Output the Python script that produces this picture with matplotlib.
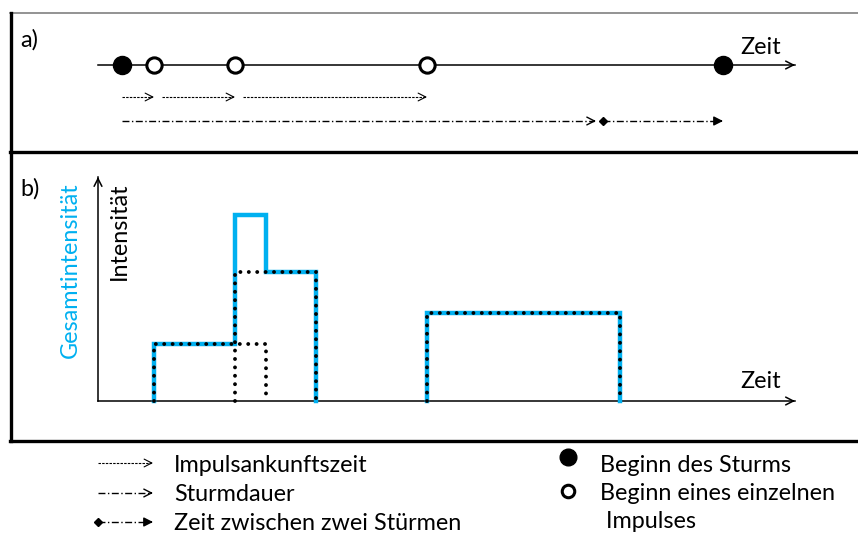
import numpy as np
import matplotlib.pyplot as plt

# ---- data (time in arbitrary units, intensity in arbitrary units) ----
storm_starts = [2.4, 62.5]          # Beginn des Sturms
pulse_starts = [5.6, 13.7, 32.9]    # Beginn eines einzelnen Impulses
pulse_ends = [16.8, 21.8, 52.2]
pulse_heights = [5.7, 12.9, 8.8]
storm_duration_end = 49.8           # end of first Sturmdauer arrow
time_axis_end = 69.7
intensity_axis_end = 22.4

legend_lines = ['Impulsankunftszeit', 'Sturmdauer', 'Zeit zwischen zwei Stürmen']
legend_points = ['Beginn des Sturms', 'Beginn eines einzelnen', ' Impulses']

plt.rcParams['font.family'] = ['Lato', 'DejaVu Sans']
FS = 16.8
BLUE = '#00B0F0'
dotdash = (0, (5, 1.8, 1, 1.8))
finedash = (0, (2.2, 1.1))
HEAD = ',head_length=0.55,head_width=0.28'

fig = plt.figure(figsize=(8.58, 5.34), dpi=100)
W, H = 858, 534

# frame axes in pixel coordinates
fr = fig.add_axes([0, 0, 1, 1])
fr.set_xlim(0, W)
fr.set_ylim(H, 0)
fr.axis('off')
fr.plot([10, W], [13, 13], color='#808080', lw=1.2)
fr.plot([10.5, 10.5], [13, 441], color='black', lw=2.4)
fr.plot([10, W], [152, 152], color='black', lw=2.4)
fr.plot([10, W], [441, 441], color='black', lw=2.4)
fr.text(20, 40, 'a)', fontsize=FS, va='center', ha='left')
fr.text(20, 189, 'b)', fontsize=FS, va='center', ha='left')

xlim = (-9.8, 76.0)


def arrow_head(ax, x1, y, filled=False, lw=0.9, dx=0.3, dy=0.0):
    style = ('-|>' if filled else '->') + HEAD
    ax.annotate('', xy=(x1, y), xytext=(x1 - dx, y - dy),
                arrowprops=dict(arrowstyle=style, color='black', lw=lw,
                                shrinkA=0, shrinkB=0))


# ---- panel a ----
aa = fig.add_axes([0, 0, 1, 1])
aa.set_xlim(*xlim)
aa.set_ylim(H, 0)
aa.axis('off')
y_line, y_arr, y_dur = 65, 97, 121
aa.plot([0, time_axis_end], [y_line, y_line], color='black', lw=1.1)
arrow_head(aa, time_axis_end, y_line, lw=1.1)
aa.text(time_axis_end - 3.4, y_line - 18, 'Zeit', fontsize=FS, ha='center', va='center')
aa.plot(storm_starts, [y_line] * len(storm_starts), 'o', color='black', ms=13, zorder=3)
aa.plot(pulse_starts, [y_line] * len(pulse_starts), 'o', mfc='white', mec='black',
        mew=2.2, ms=11, zorder=3)

# Impulsankunftszeit arrows
prev = storm_starts[0]
for i, ps in enumerate(pulse_starts):
    start = prev if i == 0 else prev + 0.75
    aa.plot([start, ps - 0.2], [y_arr, y_arr], color='black', lw=0.8, linestyle=finedash)
    arrow_head(aa, ps, y_arr, lw=0.8)
    prev = ps

# Sturmdauer + Zeit zwischen zwei Stuermen
aa.plot([storm_starts[0], storm_duration_end - 0.2], [y_dur, y_dur], color='black',
        lw=1.0, linestyle=dotdash)
arrow_head(aa, storm_duration_end, y_dur, lw=1.0)
gap_start = storm_duration_end + 0.7
aa.plot([gap_start, storm_starts[1] - 0.6], [y_dur, y_dur], color='black', lw=1.0,
        linestyle=dotdash)
aa.plot([gap_start], [y_dur], 'D', color='black', ms=4)
arrow_head(aa, storm_starts[1], y_dur, filled=True, lw=1.0)

# ---- panel b ----
ab = fig.add_axes([0, (H - 441) / H, 1, (441 - 152) / H])
ab.set_xlim(*xlim)
ab.set_ylim(-4.0, 24.9)
ab.axis('off')
ab.plot([0, time_axis_end], [0, 0], color='black', lw=1.1)
arrow_head(ab, time_axis_end, 0, lw=1.1)
ab.plot([0, 0], [0, intensity_axis_end], color='black', lw=1.1)
arrow_head(ab, 0, intensity_axis_end, lw=1.1, dx=0.0, dy=0.3)
ab.text(time_axis_end - 3.4, 1.9, 'Zeit', fontsize=FS, ha='center', va='center')
ab.text(-2.75, 21.9, 'Gesamtintensität', fontsize=FS, color=BLUE, rotation=90,
        ha='center', va='top')
ab.text(2.1, 21.9, 'Intensität', fontsize=FS, color='black', rotation=90,
        ha='center', va='top')

# total intensity as sum of pulses, broken where it is zero
edges = sorted(set(pulse_starts + pulse_ends))
levels = [sum(h for s, e, h in zip(pulse_starts, pulse_ends, pulse_heights) if s <= t < e)
          for t in edges[:-1]]
tx, ty = [], []
prev_level = 0
for k, lev in enumerate(levels):
    x0, x1 = edges[k], edges[k + 1]
    if lev == 0:
        if prev_level:
            tx += [x0, np.nan]
            ty += [0, np.nan]
        prev_level = 0
        continue
    tx += [x0, x0, x1]
    ty += [prev_level, lev, lev]
    prev_level = lev
if prev_level:
    tx.append(edges[-1])
    ty.append(0)
ab.plot(tx, ty, color=BLUE, lw=3.2, solid_joinstyle='miter', zorder=2)

for s, e, h in zip(pulse_starts, pulse_ends, pulse_heights):
    ab.plot([s, s, e, e], [0, h, h, 0], color='black', lw=2.8,
            linestyle=(0, (0.01, 2.15)), dash_capstyle='round', zorder=3)

# ---- legend ----
ly = [463, 493, 522]
tb = [472, 501, 530]
fr.plot([98, 151], [ly[0], ly[0]], color='black', lw=0.8, linestyle=finedash)
arrow_head(fr, 153, ly[0], lw=0.8, dx=3)
fr.plot([98, 151], [ly[1], ly[1]], color='black', lw=1.0, linestyle=dotdash)
arrow_head(fr, 153, ly[1], lw=1.0, dx=3)
fr.plot([98, 148], [ly[2], ly[2]], color='black', lw=1.0, linestyle=dotdash)
fr.plot([98], [ly[2]], 'D', color='black', ms=4)
arrow_head(fr, 153, ly[2], filled=True, lw=1.0, dx=3)
for lab, b in zip(legend_lines, tb):
    fr.text(174, b, lab, fontsize=FS, va='baseline', ha='left')

fr.plot([568], [457], 'o', color='black', ms=12)
fr.plot([568], [491], 'o', mfc='white', mec='black', mew=2.2, ms=9)
for lab, b in zip(legend_points, [tb[0], tb[1] - 1, tb[2] - 2]):
    fr.text(600, b, lab, fontsize=FS, va='baseline', ha='left')

fig.savefig('out.png', dpi=100, facecolor='white')
